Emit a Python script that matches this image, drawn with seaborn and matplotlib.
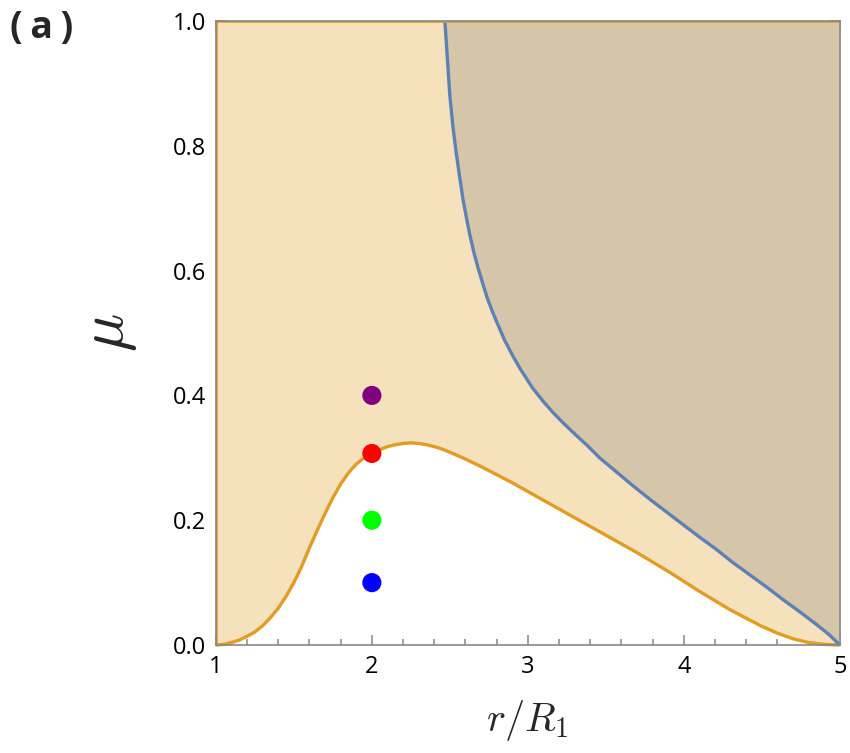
import numpy as np
import pandas as pd
import seaborn as sns
import matplotlib.pyplot as plt
from matplotlib.ticker import MultipleLocator

# lower boundary (orange)
orange_x = [1.0, 1.05, 1.1, 1.15, 1.2, 1.25, 1.3, 1.35, 1.4, 1.45, 1.5, 1.55, 1.6, 1.65,
            1.7, 1.75, 1.8, 1.85, 1.9, 1.95, 2.0, 2.05, 2.1, 2.15, 2.2, 2.25, 2.3, 2.35,
            2.4, 2.45, 2.5, 2.6, 2.7, 2.8, 2.9, 3.0, 3.1, 3.2, 3.3, 3.4, 3.5, 3.6, 3.7,
            3.8, 3.9, 4.0, 4.1, 4.2, 4.3, 4.4, 4.5, 4.6, 4.7, 4.8, 4.9, 5.0]
orange_y = [0.0, 0.001, 0.004, 0.008, 0.014, 0.021, 0.031, 0.044, 0.059, 0.078, 0.100,
            0.126, 0.156, 0.184, 0.211, 0.236, 0.258, 0.276, 0.290, 0.300, 0.307, 0.313,
            0.318, 0.321, 0.323, 0.324, 0.323, 0.321, 0.318, 0.314, 0.309, 0.298, 0.286,
            0.273, 0.260, 0.246, 0.232, 0.218, 0.204, 0.190, 0.176, 0.162, 0.148, 0.133,
            0.118, 0.102, 0.086, 0.071, 0.056, 0.043, 0.030, 0.019, 0.010, 0.004, 0.001, 0.0]

# upper boundary (blue)
blue_x = [2.468, 2.48, 2.50, 2.52, 2.54, 2.56, 2.585, 2.61, 2.63, 2.655, 2.68, 2.71, 2.74,
          2.77, 2.80, 2.85, 2.90, 2.95, 3.03, 3.10, 3.16, 3.23, 3.31, 3.38, 3.46, 3.57,
          3.67, 3.78, 3.89, 4.0, 4.1, 4.21, 4.31, 4.42, 4.53, 4.64, 4.75, 4.85, 4.93, 5.0]
blue_y = [1.0, 0.955, 0.88, 0.83, 0.79, 0.755, 0.713, 0.68, 0.655, 0.628, 0.605, 0.58,
          0.556, 0.536, 0.518, 0.489, 0.465, 0.443, 0.412, 0.39, 0.373, 0.355, 0.336, 0.32,
          0.30, 0.277, 0.256, 0.234, 0.213, 0.192, 0.173, 0.153, 0.133, 0.113, 0.093,
          0.072, 0.052, 0.033, 0.017, 0.0]

# sample points
pt_x = [2, 2, 2, 2]
pt_y = [0.1, 0.2, 0.307, 0.4]
pt_name = ['b', 'g', 'r', 'p']
pt_colors = ['#0000FF', '#00FF00', '#FF0000', '#800080']

sns.set_theme(style='ticks')
plt.rcParams['font.family'] = ['Open Sans', 'DejaVu Sans']
plt.rcParams['mathtext.fontset'] = 'cm'

fig = plt.figure(figsize=(8.5, 7.53), dpi=100)
ax = fig.add_axes([0.254, 0.1434, 0.734, 0.8287])

orange = '#E19C24'
blue = '#5E81B5'

ax.fill_between(orange_x, orange_y, 1, color='#F6E1BD', lw=0, zorder=1)
ax.fill_between(blue_x, blue_y, 1, color='#D5C6AA', lw=0, zorder=2)

df_o = pd.DataFrame({'x': orange_x, 'y': orange_y})
df_b = pd.DataFrame({'x': blue_x, 'y': blue_y})
sns.lineplot(data=df_o, x='x', y='y', color=orange, lw=2.4, ax=ax, zorder=3)
sns.lineplot(data=df_b, x='x', y='y', color=blue, lw=2.4, ax=ax, zorder=3)
for ln in ax.lines:
    ln.set_clip_on(False)
    ln.set_solid_capstyle('butt')
    ln.set_solid_joinstyle('round')

# region edge along left and top (inner half only, spine drawn over it)
ax.plot([1, 1, 5], [0, 1, 1], color=orange, lw=2.6, zorder=4)

df_p = pd.DataFrame({'x': pt_x, 'y': pt_y, 'c': pt_name})
sns.scatterplot(data=df_p, x='x', y='y', hue='c', palette=dict(zip(pt_name, pt_colors)),
                s=190, edgecolor='none', legend=False, ax=ax, zorder=5)

ax.set_xlim(1, 5)
ax.set_ylim(0, 1)
ax.xaxis.set_major_locator(MultipleLocator(1))
ax.xaxis.set_minor_locator(MultipleLocator(0.2))
ax.yaxis.set_major_locator(MultipleLocator(0.2))
ax.yaxis.set_minor_locator(MultipleLocator(0.05))
ax.set_yticks(ax.get_yticks())
ax.set_yticklabels([f'{v:.1f}' for v in ax.get_yticks()])
ax.set_xticks(ax.get_xticks())
ax.set_xticklabels([f'{int(v)}' for v in ax.get_xticks()])
ax.set_xlim(1, 5)
ax.set_ylim(0, 1)

tick_c = '#888888'
ax.tick_params(which='both', direction='in', top=True, right=True, color=tick_c,
               labelsize=17, labelcolor='black', width=1.1)
ax.tick_params(which='major', length=7, pad=7)
ax.tick_params(which='minor', length=4)
for sp in ax.spines.values():
    sp.set_color(tick_c)
    sp.set_linewidth(1.2)
    sp.set_zorder(6)

ax.set_xlabel('$r/R_1$', fontsize=29, labelpad=14)
ax.set_ylabel('$\\mu$', fontsize=46, labelpad=24)

fig.text(0.012, 0.988, '(\u2009a\u2009)', fontsize=27, fontweight='bold', va='top', ha='left',
         family=['Open Sans', 'DejaVu Sans'])

fig.savefig('out.png', dpi=100)
